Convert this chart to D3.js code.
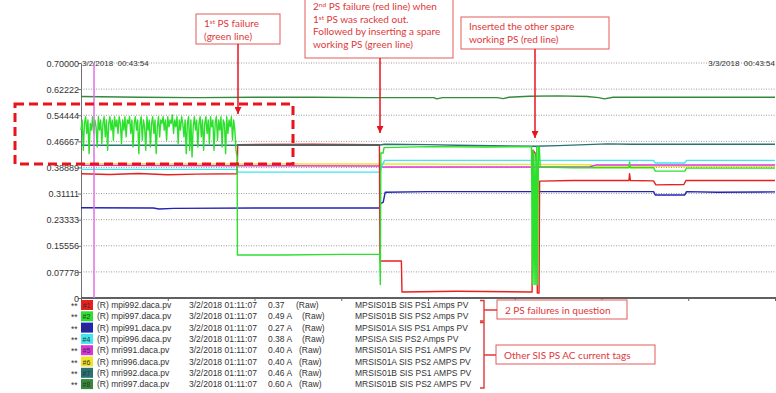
<!DOCTYPE html>
<html>
<head>
<meta charset="utf-8">
<script src="https://cdn.jsdelivr.net/npm/d3@7"></script>
<style>
  body { margin: 0; background: #fff; }
  svg { display: block; }
  .axis text { font-family: "Liberation Sans", Arial, sans-serif; font-size: 9px; fill: #333; }
  .legend text { font-family: "Liberation Sans", Arial, sans-serif; font-size: 8.5px; fill: #333; }
  .note text { font-family: Lato, "Open Sans", sans-serif; font-size: 10px; fill: #e0383a; }
</style>
</head>
<body>
<svg id="chart" width="776" height="393"></svg>
<script>
// time in hours after 3/2/2018 00:43:54, values in A
const yTicks = [0, 0.07778, 0.15556, 0.23333, 0.31111, 0.38889, 0.46667, 0.54444, 0.62222, 0.70000];
const yTickLabels = ["0", "0.07778", "0.15556", "0.23333", "0.31111", "0.38889", "0.46667", "0.54444", "0.62222", "0.70000"];
const xTicks = [0, 3, 6, 9, 12, 15, 18, 21, 24];
const startLabel = "3/2/2018  00:43:54";
const endLabel = "3/3/2018  00:43:54";
const cursorHour = 0.45;
const cursorTime = "3/2/2018 01:11:07";

const tagNames = ["(R) mpi992.daca.pv", "(R) mpi997.daca.pv", "(R) mpi991.daca.pv", "(R) mpi996.daca.pv",
  "(R) mri991.daca.pv", "(R) mri996.daca.pv", "(R) mri992.daca.pv", "(R) mri997.daca.pv"];
const tagDescs = ["MPSIS01B SIS PS1 Amps PV", "MPSIS01B SIS PS2 Amps PV", "MPSIS01A SIS PS1 Amps PV", "MPSISA SIS PS2 Amps PV",
  "MRSIS01A SIS PS1 AMPS PV", "MRSIS01A SIS PS2 AMPS PV", "MRSIS01B SIS PS1 AMPS PV", "MRSIS01B SIS PS2 AMPS PV"];
const cursorValues = ["0.37", "0.49 A", "0.27 A", "0.38 A", "0.40 A", "0.40 A", "0.46 A", "0.60 A"];
const colors = ["#e8201e", "#2ee02e", "#2424b4", "#40e6ee", "#dc34dc", "#f0e424", "#2a7272", "#348a3a"];

// #2 while failing: one logged sample every 0.04 h
const greenSampleStep = 0.04;
const greenFailing = [
  0.50, 0.53, 0.44, 0.52, 0.54, 0.49, 0.53, 0.43, 0.52, 0.50,
  0.54, 0.49, 0.53, 0.51, 0.45, 0.54, 0.50, 0.53, 0.46, 0.52,
  0.54, 0.48, 0.53, 0.44, 0.52, 0.54, 0.50, 0.53, 0.47, 0.54,
  0.51, 0.53, 0.49, 0.54, 0.52, 0.46, 0.53, 0.50, 0.54, 0.48,
  0.53, 0.52, 0.54, 0.49, 0.53, 0.45, 0.52, 0.54, 0.50, 0.53,
  0.43, 0.52, 0.54, 0.47, 0.53, 0.51, 0.44, 0.54, 0.50, 0.53,
  0.45, 0.52, 0.54, 0.49, 0.53, 0.43, 0.51, 0.54, 0.48, 0.53,
  0.52, 0.54, 0.50, 0.53, 0.47, 0.54, 0.51, 0.53, 0.52, 0.545,
  0.49, 0.53, 0.51, 0.54, 0.46, 0.53, 0.50, 0.54, 0.52, 0.48,
  0.53, 0.43, 0.52, 0.54, 0.44, 0.53, 0.42, 0.51, 0.54, 0.50,
  0.53, 0.45, 0.52, 0.54, 0.48, 0.53, 0.44, 0.52, 0.54, 0.49,
  0.53, 0.46, 0.54, 0.51, 0.53, 0.44, 0.52, 0.54, 0.47, 0.53,
  0.50, 0.54, 0.45, 0.53, 0.52, 0.43, 0.54, 0.49, 0.53, 0.51,
  0.54, 0.47, 0.53, 0.50, 0.44, 0.42];

const s1 = [[0, 0.370], [1, 0.368], [2, 0.371], [3, 0.367], [4, 0.369], [5.4, 0.370], [5.42, 0.457], [8, 0.458],
  [10.32, 0.457], [10.34, 0.110], [11.08, 0.110], [11.1, 0.018], [13, 0.020], [15.6, 0.018], [15.63, 0.44],
  [15.72, 0.43], [15.76, 0.40], [15.78, 0.015], [15.84, 0.015], [15.86, 0.348], [17, 0.350], [18.95, 0.350],
  [18.97, 0.370], [19.0, 0.350], [19.8, 0.349], [19.88, 0.337], [20.85, 0.338], [20.92, 0.350], [24, 0.350]];

const s2 = greenFailing.map((v, i) => [i * greenSampleStep, v]).concat([
  [5.41, 0.128], [7, 0.128], [9, 0.130], [10.33, 0.130], [10.35, 0.040], [10.37, 0.432], [10.45, 0.432],
  [10.48, 0.448], [12, 0.451], [14, 0.450], [15.58, 0.451], [15.61, 0.04], [15.64, 0.44], [15.67, 0.04],
  [15.70, 0.43], [15.73, 0.04], [15.76, 0.45], [15.79, 0.04], [15.82, 0.45], [15.85, 0.45], [15.88, 0.39],
  [17, 0.388], [18.95, 0.388], [18.97, 0.405], [19.0, 0.388], [19.8, 0.388], [19.86, 0.378], [20.88, 0.378],
  [20.94, 0.387], [24, 0.387]]);

const s3 = [[0, 0.269], [2.5, 0.268], [2.7, 0.265], [3.2, 0.267], [6, 0.268], [10.33, 0.268], [10.36, 0.282],
  [10.45, 0.285], [10.52, 0.315], [12, 0.317], [15.6, 0.317], [18, 0.317], [19.8, 0.317], [19.86, 0.307],
  [20.88, 0.307], [20.94, 0.317], [22, 0.315], [24, 0.316]];

const s4 = [[0, 0.383], [5.4, 0.383], [5.42, 0.375], [10.34, 0.375], [10.4, 0.392], [10.5, 0.410], [15.6, 0.410],
  [19.8, 0.410], [19.86, 0.402], [20.88, 0.402], [20.94, 0.410], [24, 0.410]];

const s5 = [[0, 0.395], [5.4, 0.394], [10.34, 0.393], [10.4, 0.390], [15.6, 0.390], [17.6, 0.391], [17.8, 0.396], [24, 0.396]];

const s6 = [[0, 0.400], [5.4, 0.399], [10.34, 0.399], [15.6, 0.398], [17.6, 0.397], [17.8, 0.392], [24, 0.392]];

const s7 = [[0, 0.455], [5.4, 0.455], [8, 0.455], [10.3, 0.455], [10.5, 0.458], [12, 0.457], [13, 0.455],
  [15.7, 0.452], [16.5, 0.454], [18.2, 0.459], [19, 0.458], [24, 0.458]];

const s8 = [[0, 0.600], [2, 0.598], [4, 0.597], [6, 0.598], [8, 0.598], [10, 0.597], [12.2, 0.597], [12.3, 0.593],
  [12.5, 0.597], [14.4, 0.597], [14.6, 0.594], [14.8, 0.598], [15.5, 0.601], [16.5, 0.602], [17.5, 0.600],
  [17.9, 0.597], [18.1, 0.593], [18.4, 0.598], [21, 0.598], [24, 0.598]];

const allSeries = [s1, s2, s3, s4, s5, s6, s7, s8];
const drawOrder = [7, 5, 4, 3, 2, 0, 6, 1];

const svg = d3.select("#chart");
svg.append("rect").attr("width", 776).attr("height", 393).attr("fill", "#fff");

const x = d3.scaleLinear().domain([0, 24]).range([81, 775]);
const y = d3.scaleLinear().domain([0, 0.7]).range([298, 63]);

// grid
svg.append("g")
  .selectAll("line")
  .data(yTicks.slice(1))
  .join("line")
  .attr("x1", x(0)).attr("x2", 776)
  .attr("y1", d => y(d)).attr("y2", d => y(d))
  .attr("stroke", "#9a9a9a")
  .attr("stroke-width", 1)
  .attr("stroke-dasharray", "1,1.5");

// axes
const yAxis = svg.append("g")
  .attr("class", "axis")
  .attr("transform", `translate(${x(0)},0)`)
  .call(d3.axisLeft(y).tickValues(yTicks).tickFormat((d, i) => yTickLabels[i]).tickSize(3).tickSizeOuter(0));
yAxis.select(".domain").attr("stroke", "#707070");
yAxis.selectAll(".tick line").attr("stroke", "#707070");
yAxis.selectAll("text").attr("x", -2).attr("dy", "0.35em");

const xAxis = svg.append("g")
  .attr("class", "axis")
  .attr("transform", `translate(0,${y(0)})`)
  .call(d3.axisBottom(x).tickValues(xTicks).tickFormat("").tickSize(3).tickSizeOuter(0));
xAxis.select(".domain").attr("stroke", "#606060").attr("stroke-width", 2).attr("d", `M${x(0)},0H776`);
xAxis.selectAll(".tick line").attr("stroke", "#606060");

svg.append("text").attr("x", x(0) + 1).attr("y", 66)
  .style("font", "8px 'Liberation Sans', Arial, sans-serif").attr("fill", "#333")
  .attr("xml:space", "preserve").text(startLabel);
svg.append("text").attr("x", 775).attr("y", 66).attr("text-anchor", "end")
  .style("font", "8px 'Liberation Sans', Arial, sans-serif").attr("fill", "#333")
  .attr("xml:space", "preserve").text(endLabel);

// traces
const line = d3.line().x(d => x(d[0])).y(d => y(d[1]));
svg.append("g")
  .selectAll("path")
  .data(drawOrder)
  .join("path")
  .attr("d", i => line(allSeries[i]))
  .attr("fill", "none")
  .attr("stroke", i => colors[i])
  .attr("stroke-width", 1.4)
  .attr("stroke-linejoin", "round");

// cursor
svg.append("line")
  .attr("x1", x(cursorHour)).attr("x2", x(cursorHour))
  .attr("y1", y(0.7)).attr("y2", y(0))
  .attr("stroke", "#e070e6").attr("stroke-width", 1.5);

// legend
const legend = svg.append("g").attr("class", "legend");
const rowY = i => 305 + i * 11.3;
const rows = legend.selectAll("g").data(tagNames).join("g")
  .attr("transform", (d, i) => `translate(0,${rowY(i)})`);
rows.append("text").attr("x", 71).attr("y", 4).text("**");
rows.append("rect").attr("x", 81).attr("y", -5).attr("width", 12).attr("height", 10)
  .attr("fill", (d, i) => colors[i]);
rows.append("text").attr("x", 82.5).attr("y", 3).style("font-size", "7px").attr("fill", "#222")
  .text((d, i) => "#" + (i + 1));
rows.append("text").attr("x", 97).attr("y", 3).text(d => d);
rows.append("text").attr("x", 189).attr("y", 3).text(cursorTime);
rows.append("text").attr("x", 268).attr("y", 3).text((d, i) => cursorValues[i]);
rows.append("text").attr("x", (d, i) => i === 0 ? 296 : (i < 4 ? 302 : 299)).attr("y", 3).text("(Raw)");
rows.append("text").attr("x", 355).attr("y", 3).text((d, i) => tagDescs[i]);

// annotations
const red = "#e0383a";
const note = svg.append("g").attr("class", "note");
const defs = svg.append("defs");
defs.append("marker").attr("id", "head").attr("viewBox", "0 0 10 10")
  .attr("refX", 10).attr("refY", 5).attr("markerWidth", 7).attr("markerHeight", 7)
  .attr("markerUnits", "userSpaceOnUse").attr("orient", "auto")
  .append("path").attr("d", "M0,0L10,5L0,10z").attr("fill", "#e8141b");

const boxes = [
  { x: 196, y: 14, w: 84, h: 30, lines: [["1", "st", " PS failure"], ["(green line)"]], ax: 238, ay: 114 },
  { x: 305, y: -2, w: 148, h: 60, lines: [["2", "nd", " PS failure (red line) when"], ["1", "st", " PS was racked out."],
    ["Followed by inserting a spare"], ["working PS (green line)"]], ax: 380, ay: 133 },
  { x: 461, y: 17, w: 148, h: 32, lines: [["Inserted the other spare"], ["working PS (red line)"]], ax: 535, ay: 138 },
  { x: 497, y: 300, w: 130, h: 19, lines: [["2 PS failures in question"]] },
  { x: 496, y: 345, w: 159, h: 19, lines: [["Other SIS PS AC current tags"]] }
];
boxes.forEach(b => {
  note.append("rect").attr("x", b.x).attr("y", b.y).attr("width", b.w).attr("height", b.h)
    .attr("fill", "#fff").attr("stroke", "#e35a5a").attr("stroke-width", 1);
  const lh = b.lines.length > 2 ? 12.6 : 13;
  const top = b.lines.length > 2 ? b.y + 12 : (b.h < 25 ? b.y + 13.5 : b.y + 13);
  b.lines.forEach((ln, k) => {
    const t = note.append("text").attr("x", b.x + 8).attr("y", top + k * lh);
    if (ln.length === 3) {
      t.append("tspan").text(ln[0]);
      t.append("tspan").attr("dy", -3).style("font-size", "6.5px").text(ln[1]);
      t.append("tspan").attr("dy", 3).text(ln[2]);
    } else {
      t.text(ln[0]);
    }
  });
  if (b.ax) {
    svg.append("line").attr("x1", b.ax).attr("x2", b.ax).attr("y1", b.y + b.h).attr("y2", b.ay)
      .attr("stroke", "#e8141b").attr("stroke-width", 1.5).attr("marker-end", "url(#head)");
  }
});

// braces
const brace = (y0, y1, ym, x1) => `M480,${y0}H484V${y1}H480M484,${ym}H${x1}`;
svg.append("path").attr("d", brace(300.5, 321, 310, 497)).attr("fill", "none").attr("stroke", red).attr("stroke-width", 1.4);
svg.append("path").attr("d", brace(322.5, 388, 355, 496)).attr("fill", "none").attr("stroke", red).attr("stroke-width", 1.4);

// highlight of the first failure
svg.append("rect").attr("x", 15).attr("y", 104).attr("width", 278).attr("height", 60)
  .attr("fill", "none").attr("stroke", "#e8141b").attr("stroke-width", 3).attr("stroke-dasharray", "9,5");
</script>
</body>
</html>
